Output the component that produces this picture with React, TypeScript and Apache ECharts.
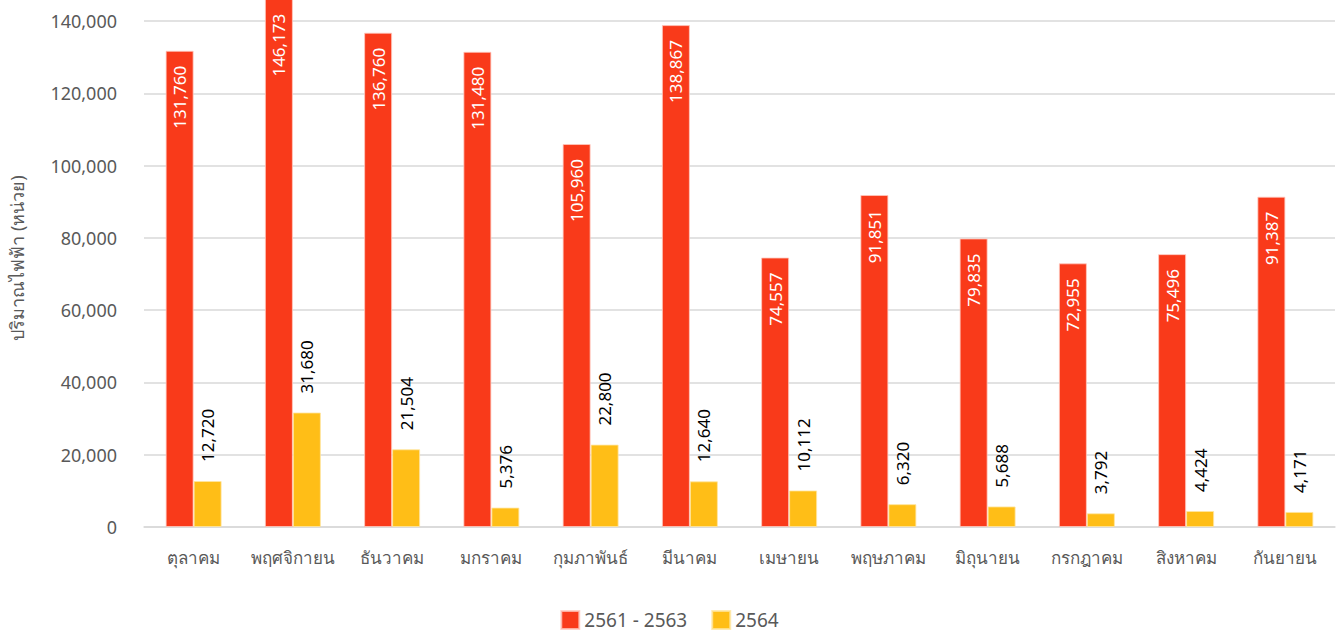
import React, { useEffect, useRef } from "react";
import * as echarts from "echarts";

const categories = ["ตุลาคม", "พฤศจิกายน", "ธันวาคม", "มกราคม", "กุมภาพันธ์", "มีนาคม", "เมษายน", "พฤษภาคม", "มิถุนายน", "กรกฎาคม", "สิงหาคม", "กันยายน"];
const series1Name = "2561 - 2563";
const series2Name = "2564";
const series1 = [131760, 146173, 136760, 131480, 105960, 138867, 74557, 91851, 79835, 72955, 75496, 91387];
const series2 = [12720, 31680, 21504, 5376, 22800, 12640, 10112, 6320, 5688, 3792, 4424, 4171];
const yAxisName = "ปริมาณไฟฟ้า (หน่วย)";

const FONT = "'Noto Sans', 'DejaVu Sans', sans-serif";
const fmt = (v: number) => v.toLocaleString("en-US");

export default function App() {
  const ref = useRef<HTMLDivElement>(null);
  useEffect(() => {
    const chart = echarts.init(ref.current!, null, { renderer: "svg" });
    chart.setOption({
      animation: false,
      textStyle: { fontFamily: FONT },
      grid: { left: 143, right: 4, top: 21, bottom: 108, containLabel: false },
      legend: {
        top: 605,
        left: "center",
        itemWidth: 18,
        itemHeight: 18,
        itemGap: 24,
        icon: "rect",
        textStyle: { color: "#595959", fontSize: 19, fontFamily: FONT },
        data: [series1Name, series2Name],
      },
      xAxis: {
        type: "category",
        data: categories,
        axisLine: { lineStyle: { color: "#d9d9d9", width: 1.5 } },
        axisTick: { show: false },
        axisLabel: { color: "#595959", fontSize: 17, margin: 22, interval: 0, fontFamily: FONT },
      },
      yAxis: {
        type: "value",
        min: 0,
        max: 140000,
        interval: 20000,
        name: yAxisName,
        nameLocation: "middle",
        nameGap: 118,
        nameTextStyle: { color: "#595959", fontSize: 18, fontFamily: FONT, padding: [0, 0, 0, 32] },
        axisLine: { show: false },
        axisTick: { show: false },
        splitLine: { lineStyle: { color: "#d9d9d9", width: 1.5 } },
        axisLabel: { color: "#595959", fontSize: 18, margin: 27, formatter: (v: number) => fmt(v), fontFamily: FONT },
      },
      series: [
        {
          name: series1Name,
          type: "bar",
          data: series1,
          clip: false,
          barGap: "0%",
          barCategoryGap: "43.6%",
          itemStyle: { color: "#F93A1A", borderColor: "rgba(255,200,190,0.8)", borderWidth: 1 },
          label: {
            show: true,
            position: "insideTop",
            rotate: 90,
            align: "right",
            verticalAlign: "middle",
            distance: 15,
            color: "#ffffff",
            fontSize: 17,
            fontFamily: FONT,
            formatter: (p: any) => fmt(p.value),
          },
        },
        {
          name: series2Name,
          type: "bar",
          data: series2,
          clip: false,
          itemStyle: { color: "#FFBE17", borderColor: "rgba(255,230,160,0.8)", borderWidth: 1 },
          label: {
            show: true,
            position: "top",
            rotate: 90,
            align: "left",
            verticalAlign: "middle",
            distance: 19,
            color: "#000000",
            fontSize: 17,
            fontFamily: FONT,
            formatter: (p: any) => fmt(p.value),
          },
        },
      ],
    });
    return () => chart.dispose();
  }, []);
  return <div ref={ref} style={{ position: "absolute", left: 0, top: 0, width: 1339, height: 635 }} />;
}
